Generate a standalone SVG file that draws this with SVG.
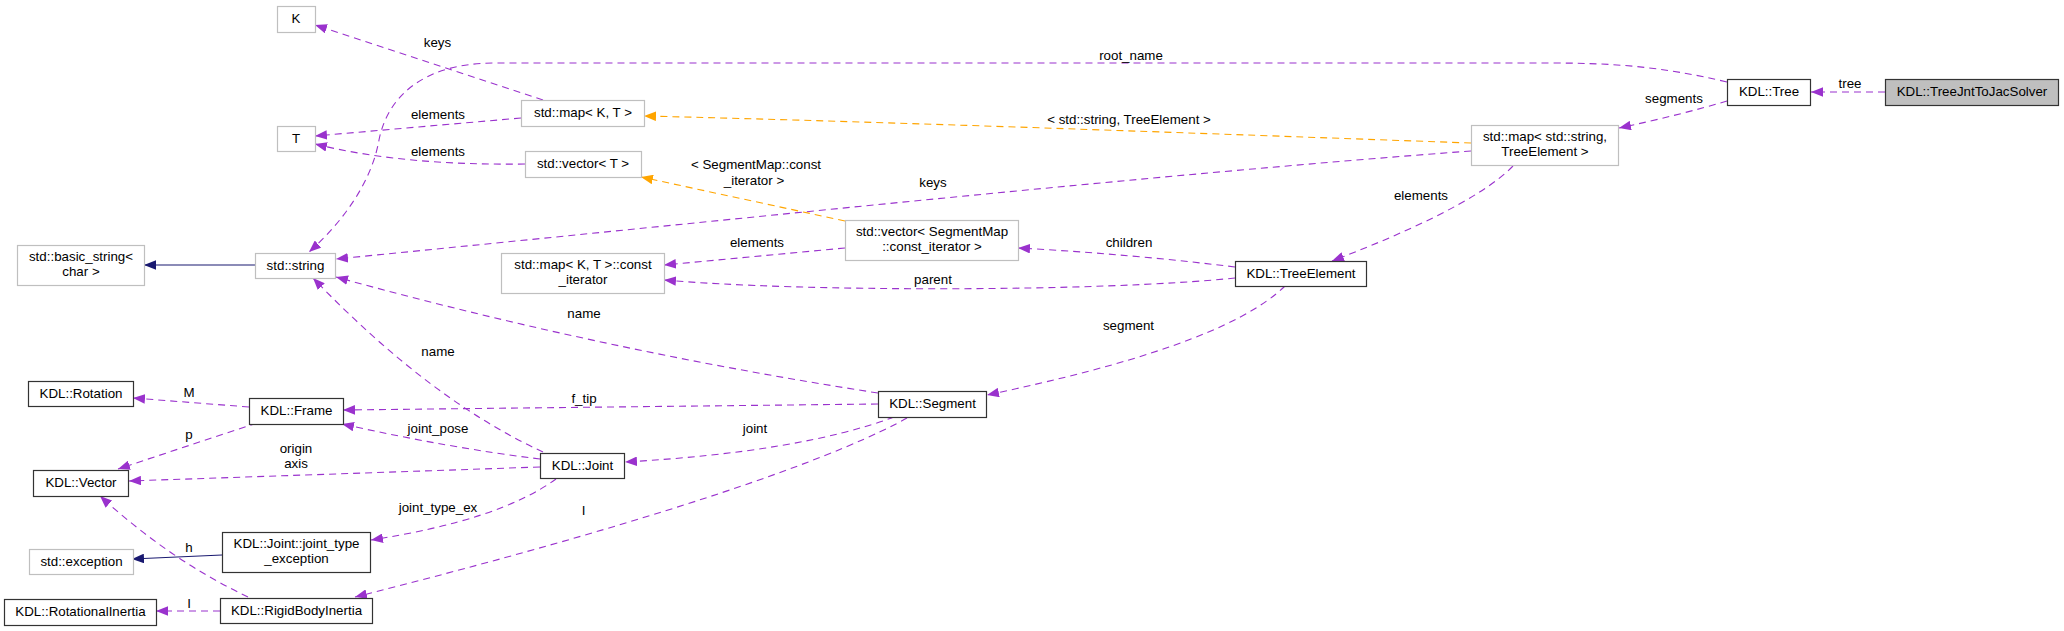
<svg xmlns="http://www.w3.org/2000/svg" width="2064" height="631" viewBox="0 0 2064 631">
<style>
text{font-family:"Liberation Sans",Arial,Helvetica,sans-serif;font-size:13.33px;fill:#000}
.n text{text-anchor:middle}
.doc{fill:#fff;stroke:#333;stroke-width:1.2}
.und{fill:#fff;stroke:#bfbfbf;stroke-width:1.2}
.cur{fill:#bfbfbf;stroke:#333;stroke-width:1.2}
.e{fill:none;stroke:#9a32cd;stroke-width:1.1;stroke-dasharray:7,5}
.o{fill:none;stroke:#ffa500;stroke-width:1.1;stroke-dasharray:7,5}
.i{fill:none;stroke:#191970;stroke-width:1.1}
.lbl text{text-anchor:middle}
</style>
<defs>
<marker id="ap" markerUnits="userSpaceOnUse" viewBox="0 0 12 9.6" markerWidth="12" markerHeight="9.6" refX="12" refY="4.8" orient="auto"><path d="M0,0 L12,4.8 L0,9.6 z" fill="#9a32cd" stroke="none"/></marker>
<marker id="ao" markerUnits="userSpaceOnUse" viewBox="0 0 12 9.6" markerWidth="12" markerHeight="9.6" refX="12" refY="4.8" orient="auto"><path d="M0,0 L12,4.8 L0,9.6 z" fill="#ffa500" stroke="none"/></marker>
<marker id="ai" markerUnits="userSpaceOnUse" viewBox="0 0 12 9.6" markerWidth="12" markerHeight="9.6" refX="12" refY="4.8" orient="auto"><path d="M0,0 L12,4.8 L0,9.6 z" fill="#191970" stroke="none"/></marker>
</defs>
<rect width="2064" height="631" fill="#fff"/>
<g id="edges">
<path class="e" marker-end="url(#ap)" d="M1885,92 L1811,92"/>
<path class="e" marker-end="url(#ap)" d="M1727,82 C1660,66 1610,63 1550,63 L495,63 C425,63 388,95 379,140 C372,180 345,220 309,252"/>
<path class="e" marker-end="url(#ap)" d="M1727,101 Q1680,115 1619,128"/>
<path class="o" marker-end="url(#ao)" d="M1471,143 C1300,137 900,122 644,116"/>
<path class="e" marker-end="url(#ap)" d="M1471,151 C1150,175 750,218 336,259"/>
<path class="e" marker-end="url(#ap)" d="M1513,166 C1480,200 1400,235 1332,261"/>
<path class="o" marker-end="url(#ao)" d="M845,221 L641,177"/>
<path class="e" marker-end="url(#ap)" d="M845,248 L664,265"/>
<path class="e" marker-end="url(#ap)" d="M1235,267 Q1130,254 1018,248"/>
<path class="e" marker-end="url(#ap)" d="M1235,278 C1100,292 800,292 664,280"/>
<path class="e" marker-end="url(#ap)" d="M1285,286 C1240,330 1130,365 987,395"/>
<path class="e" marker-end="url(#ap)" d="M878,393 Q600,350 336,277"/>
<path class="e" marker-end="url(#ap)" d="M878,404 L343,410"/>
<path class="e" marker-end="url(#ap)" d="M894,417 Q800,452 625,462"/>
<path class="e" marker-end="url(#ap)" d="M907,418 C850,450 700,510 355,597"/>
<path class="e" marker-end="url(#ap)" d="M543,452 Q430,400 313,278"/>
<path class="e" marker-end="url(#ap)" d="M540,459 Q450,448 342,424"/>
<path class="e" marker-end="url(#ap)" d="M540,467 L129,481"/>
<path class="e" marker-end="url(#ap)" d="M556,479 Q500,520 371,540"/>
<path class="e" marker-end="url(#ap)" d="M249,407 L133,398"/>
<path class="e" marker-end="url(#ap)" d="M257,423 L118,469"/>
<path class="e" marker-end="url(#ap)" d="M248,597 Q170,560 100,496"/>
<path class="e" marker-end="url(#ap)" d="M220,611 L156,611"/>
<path class="i" marker-end="url(#ai)" d="M222,555 L132,559"/>
<path class="i" marker-end="url(#ai)" d="M255,265 L144,265"/>
<path class="e" marker-end="url(#ap)" d="M543,100 L315,25"/>
<path class="e" marker-end="url(#ap)" d="M521,118 L315,136"/>
<path class="e" marker-end="url(#ap)" d="M525,164 C450,165 380,160 315,144"/>
<g class="lbl">
<text x="1850" y="87.5">tree</text>
<text x="1131" y="59.5">root_name</text>
<text x="1674" y="103">segments</text>
<text x="1129" y="123.5">&lt; std::string, TreeElement &gt;</text>
<text x="933" y="187">keys</text>
<text x="1421" y="199.5">elements</text>
<text x="756" y="168.5">&lt; SegmentMap::const</text>
<text x="754" y="184.5">_iterator &gt;</text>
<text x="757" y="247">elements</text>
<text x="1129" y="246.5">children</text>
<text x="933" y="283.5">parent</text>
<text x="1128.5" y="329.5">segment</text>
<text x="584" y="317.5">name</text>
<text x="584" y="403">f_tip</text>
<text x="755" y="432.5">joint</text>
<text x="583.5" y="514.5">I</text>
<text x="438" y="355.5">name</text>
<text x="438" y="433">joint_pose</text>
<text x="296" y="453">origin</text>
<text x="296" y="467.5">axis</text>
<text x="438" y="512">joint_type_ex</text>
<text x="189" y="396.5">M</text>
<text x="189" y="439">p</text>
<text x="189" y="552">h</text>
<text x="189" y="607.5">I</text>
<text x="437.5" y="46.5">keys</text>
<text x="438" y="119">elements</text>
<text x="438" y="155.5">elements</text>
</g>
</g>
<g id="solver" class="n"><rect class="cur" x="1885.5" y="79.5" width="173" height="26"/><text x="1972" y="96">KDL::TreeJntToJacSolver</text></g>
<g id="tree" class="n"><rect class="doc" x="1727.5" y="79.5" width="83" height="26"/><text x="1769" y="96">KDL::Tree</text></g>
<g id="mapStringTreeElement" class="n"><rect class="und" x="1471.5" y="125.5" width="147" height="40"/><text x="1545" y="141">std::map&lt; std::string,</text><text x="1545" y="156">TreeElement &gt;</text></g>
<g id="treeElement" class="n"><rect class="doc" x="1235.5" y="261.5" width="131" height="25"/><text x="1301" y="278">KDL::TreeElement</text></g>
<g id="segment" class="n"><rect class="doc" x="878.5" y="391.5" width="108" height="26"/><text x="932.5" y="408">KDL::Segment</text></g>
<g id="vectorSegMap" class="n"><rect class="und" x="845.5" y="220.5" width="173" height="40"/><text x="932" y="236">std::vector&lt; SegmentMap</text><text x="932" y="251">::const_iterator &gt;</text></g>
<g id="mapKT" class="n"><rect class="und" x="521.5" y="100.5" width="123" height="26"/><text x="583" y="117">std::map&lt; K, T &gt;</text></g>
<g id="vectorT" class="n"><rect class="und" x="525.5" y="151.5" width="116" height="26"/><text x="583" y="168">std::vector&lt; T &gt;</text></g>
<g id="K" class="n"><rect class="und" x="277.5" y="6.5" width="38" height="26"/><text x="296" y="23">K</text></g>
<g id="T" class="n"><rect class="und" x="277.5" y="126.5" width="38" height="25"/><text x="296" y="143">T</text></g>
<g id="mapConstIter" class="n"><rect class="und" x="501.5" y="253.5" width="163" height="40"/><text x="583" y="269">std::map&lt; K, T &gt;::const</text><text x="583" y="284">_iterator</text></g>
<g id="string" class="n"><rect class="und" x="255.5" y="253.5" width="80" height="25"/><text x="295.5" y="270">std::string</text></g>
<g id="basicString" class="n"><rect class="und" x="17.5" y="245.5" width="127" height="40"/><text x="81" y="261">std::basic_string&lt;</text><text x="81" y="276">char &gt;</text></g>
<g id="rotation" class="n"><rect class="doc" x="28.5" y="381.5" width="105" height="25"/><text x="81" y="398">KDL::Rotation</text></g>
<g id="frame" class="n"><rect class="doc" x="249.5" y="398.5" width="94" height="26"/><text x="296.5" y="415">KDL::Frame</text></g>
<g id="vector" class="n"><rect class="doc" x="33.5" y="470.5" width="95" height="26"/><text x="81" y="487">KDL::Vector</text></g>
<g id="joint" class="n"><rect class="doc" x="540.5" y="453.5" width="84" height="25"/><text x="582.5" y="470">KDL::Joint</text></g>
<g id="exception" class="n"><rect class="und" x="29.5" y="549.5" width="104" height="25"/><text x="81.5" y="566">std::exception</text></g>
<g id="jointTypeException" class="n"><rect class="doc" x="222.5" y="532.5" width="148" height="40"/><text x="296.5" y="548">KDL::Joint::joint_type</text><text x="296.5" y="563">_exception</text></g>
<g id="rotationalInertia" class="n"><rect class="doc" x="4.5" y="599.5" width="152" height="26"/><text x="80.5" y="616">KDL::RotationalInertia</text></g>
<g id="rigidBodyInertia" class="n"><rect class="doc" x="220.5" y="598.5" width="152" height="25"/><text x="296.5" y="615">KDL::RigidBodyInertia</text></g>
</svg>
